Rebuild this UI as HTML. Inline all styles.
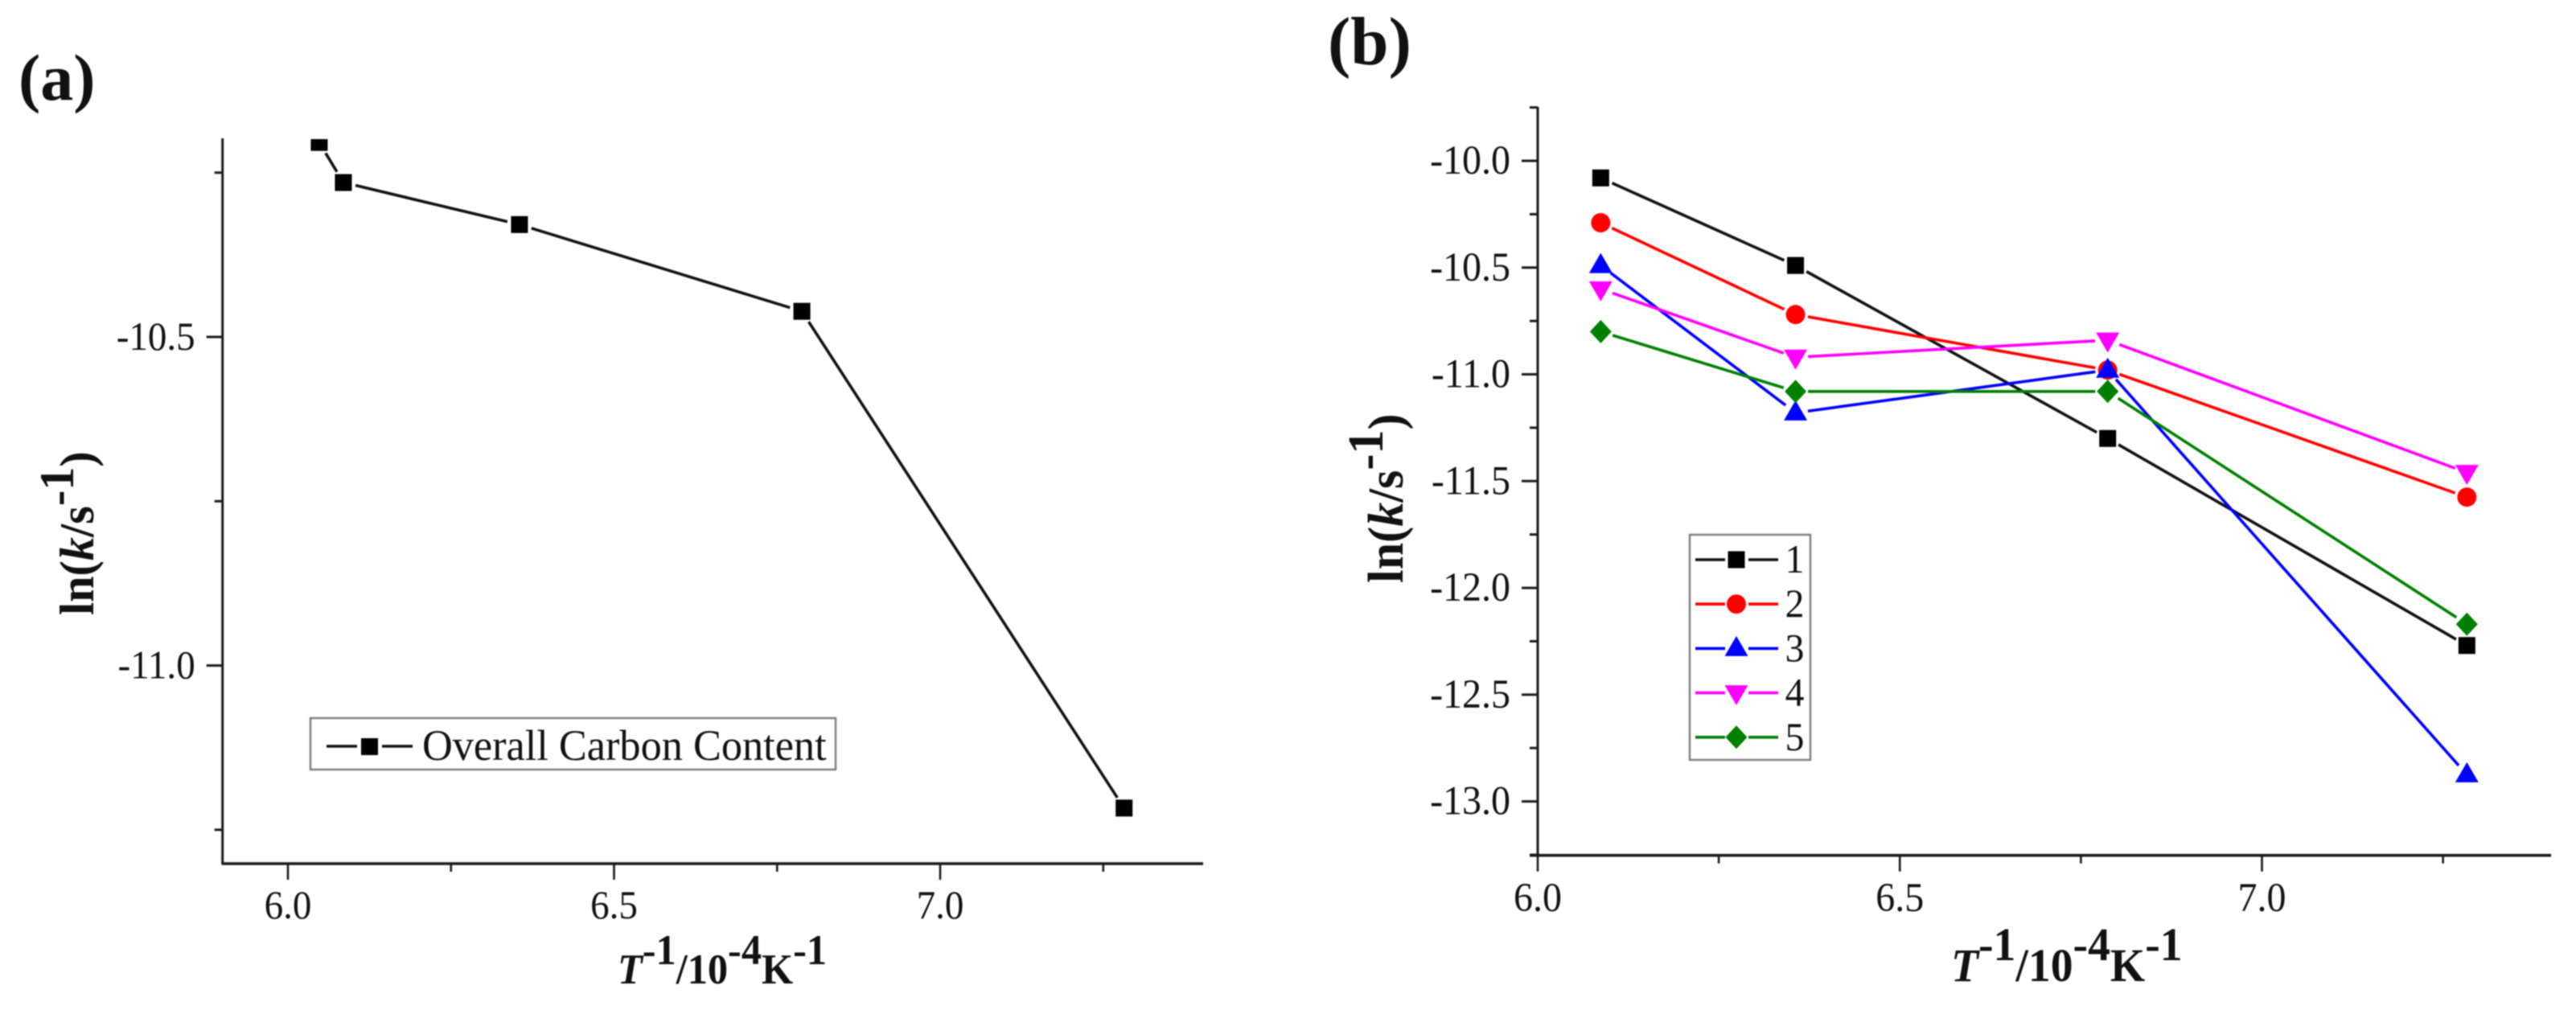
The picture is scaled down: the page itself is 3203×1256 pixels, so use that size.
<!DOCTYPE html>
<html lang="en">
<head>
<meta charset="utf-8">
<title>ln(k) versus inverse temperature</title>
<style>
  html, body { margin: 0; padding: 0; background: #fff; }
  #figure { display: block; width: 3203px; height: 1256px; filter: blur(0.7px); }
  text { font-family: "Liberation Serif", serif; fill: #111; }
</style>
</head>
<body>
<svg id="figure" xmlns="http://www.w3.org/2000/svg" width="3203" height="1256" viewBox="0 0 3203 1256">
  <defs>
    <clipPath id="clip-a"><rect x="277" y="173" width="1230" height="901"></rect></clipPath>
  </defs>
  <rect x="0" y="0" width="3203" height="1256" fill="#fff"></rect>

  <text x="23" y="124" font-size="82" font-weight="bold">(a)</text>
  <text x="1651" y="80" font-size="85" font-weight="bold">(b)</text>

  <g id="panel-a"></g>
  <g id="panel-b"></g>

  <text transform="translate(768 1223) scale(0.95 1)" font-size="53" font-weight="bold"><tspan font-style="italic">T</tspan><tspan dy="-24">-1</tspan><tspan dy="24">/10</tspan><tspan dy="-24">-4</tspan><tspan dy="24">K</tspan><tspan dy="-24">-1</tspan></text>
  <text transform="translate(2426 1220) scale(0.96 1)" font-size="58" font-weight="bold"><tspan font-style="italic">T</tspan><tspan dy="-26">-1</tspan><tspan dy="26">/10</tspan><tspan dy="-26">-4</tspan><tspan dy="26">K</tspan><tspan dy="-26">-1</tspan></text>

  <text transform="translate(116 765) rotate(-90) scale(0.97 1)" font-size="60" font-weight="bold">ln(<tspan font-style="italic">k</tspan>/s<tspan dy="-25">-1</tspan><tspan dy="25">)</tspan></text>
  <text transform="translate(1744 725) rotate(-90) scale(0.97 1)" font-size="62" font-weight="bold">ln(<tspan font-style="italic">k</tspan>/s<tspan dy="-25">-1</tspan><tspan dy="25">)</tspan></text>

  <g id="legend-a">
    <rect x="386" y="893" width="653" height="64" fill="#fff" stroke="#808080" stroke-width="2.5"></rect>
    <line x1="406" y1="928" x2="444" y2="928" stroke="#111" stroke-width="3.6"></line>
    <line x1="475" y1="928" x2="513" y2="928" stroke="#111" stroke-width="3.6"></line>
    <rect x="449" y="918" width="21" height="21" fill="#000"></rect>
    <text transform="translate(525 945) scale(0.96 1)" font-size="54.5">Overall Carbon Content</text>
  </g>
  <g id="legend-b">
    <rect x="2101" y="665" width="150" height="280" fill="#fff" stroke="#808080" stroke-width="2.5"></rect>
  </g>
</svg>

<script>
// ---- Panel (a) data ----
const panelAXValues = [6.048, 6.085, 6.355, 6.788, 7.282];
const panelAYValues = [-10.204, -10.265, -10.329, -10.461, -11.217];
const panelAXTicks = [6.0, 6.5, 7.0];
const panelAXMinorTicks = [6.25, 6.75, 7.25];
const panelAYTicks = [-10.5, -11.0];
const panelAYMinorTicks = [-10.25, -10.75, -11.25];

// ---- Panel (b) data ----
const panelBXValues = [6.087, 6.356, 6.787, 7.283];
const series1Values = [-10.08, -10.49, -11.30, -12.27];
const series2Values = [-10.29, -10.72, -10.98, -11.575];
const series3Values = [-10.49, -11.18, -10.98, -12.875];
const series4Values = [-10.60, -10.92, -10.84, -11.46];
const series5Values = [-10.80, -11.08, -11.08, -12.17];
const seriesLabels = ['1', '2', '3', '4', '5'];
const panelBXTicks = [6.0, 6.5, 7.0];
const panelBXMinorTicks = [6.25, 6.75, 7.25];
const panelBYTicks = [-10.0, -10.5, -11.0, -11.5, -12.0, -12.5, -13.0];
const panelBYMinorTicks = [-9.75, -10.25, -10.75, -11.25, -11.75, -12.25, -12.75, -13.25];

const NS = 'http://www.w3.org/2000/svg';
const AXIS_COLOR = '#1a1a1a';

function linearScale(d0, d1, r0, r1) {
  return function (v) { return r0 + (v - d0) * (r1 - r0) / (d1 - d0); };
}
function create(tag, parent) {
  const el = document.createElementNS(NS, tag);
  parent.appendChild(el);
  return el;
}
function setLine(el, x1, y1, x2, y2, color, width) {
  el.setAttribute('x1', x1);
  el.setAttribute('y1', y1);
  el.setAttribute('x2', x2);
  el.setAttribute('y2', y2);
  el.setAttribute('stroke', color);
  el.setAttribute('stroke-width', width);
}
function setMarker(el, shape, cx, cy, color) {
  let d;
  if (shape === 'square') {
    d = 'M' + (cx - 10.5) + ' ' + (cy - 10.5) + 'h21v21h-21z';
  } else if (shape === 'circle') {
    d = 'M' + (cx - 12) + ' ' + cy + 'a12 12 0 1 0 24 0a12 12 0 1 0 -24 0z';
  } else if (shape === 'up') {
    d = 'M' + cx + ' ' + (cy - 15.5) + 'L' + (cx + 14.5) + ' ' + (cy + 9.5) + 'L' + (cx - 14.5) + ' ' + (cy + 9.5) + 'z';
  } else if (shape === 'down') {
    d = 'M' + cx + ' ' + (cy + 15.5) + 'L' + (cx + 14.5) + ' ' + (cy - 9.5) + 'L' + (cx - 14.5) + ' ' + (cy - 9.5) + 'z';
  } else {
    d = 'M' + cx + ' ' + (cy - 14.5) + 'L' + (cx + 13.5) + ' ' + cy + 'L' + cx + ' ' + (cy + 14.5) + 'L' + (cx - 13.5) + ' ' + cy + 'z';
  }
  el.setAttribute('d', d);
  el.setAttribute('fill', color);
}

function drawAxes(parent, opt) {
  const xAxis = create('line', parent);
  
  
  setLine(xAxis, opt.xAxisStart, opt.axisY, opt.xAxisEnd, opt.axisY, AXIS_COLOR, 3.6);

  const yAxis = create('line', parent);
  
  
  setLine(yAxis, opt.axisX, opt.yAxisTop, opt.axisX, opt.axisY + 1, AXIS_COLOR, 3);

  opt.xTicks.forEach(function (v) {
    const t = create('line', parent);
    
    
    setLine(t, opt.x(v), opt.axisY, opt.x(v), opt.axisY + 20, AXIS_COLOR, 2.6);
    const label = create('text', parent);
    
    
    label.setAttribute('transform', 'translate(' + opt.x(v) + ' ' + opt.xLabelY + ') scale(0.95 1)');
    label.setAttribute('font-size', opt.tickFont);
    label.setAttribute('text-anchor', 'middle');
    label.textContent = v.toFixed(1);
  });
  opt.xMinor.forEach(function (v) {
    const t = create('line', parent);
    
    
    setLine(t, opt.x(v), opt.axisY, opt.x(v), opt.axisY + 10, AXIS_COLOR, 2.6);
  });
  opt.yTicks.forEach(function (v) {
    const t = create('line', parent);
    
    
    setLine(t, opt.axisX - 20, opt.y(v), opt.axisX, opt.y(v), AXIS_COLOR, 3);
    const label = create('text', parent);
    
    
    label.setAttribute('transform', 'translate(' + (opt.axisX - opt.yLabelGap) + ' ' + (opt.y(v) + 16) + ') scale(0.95 1)');
    label.setAttribute('font-size', opt.tickFont);
    label.setAttribute('text-anchor', 'end');
    label.textContent = v.toFixed(1);
  });
  opt.yMinor.forEach(function (v) {
    const t = create('line', parent);
    
    
    setLine(t, opt.axisX - 10, opt.y(v), opt.axisX, opt.y(v), AXIS_COLOR, 3);
  });
}

function drawSeries(parent, xs, ys, xScale, yScale, shape, color, gap, lineWidth, name) {
  const pts = xs.map(function (v, i) { return [xScale(v), yScale(ys[i])]; });
  for (let i = 0; i < pts.length - 1; i++) {
    const dx = pts[i + 1][0] - pts[i][0];
    const dy = pts[i + 1][1] - pts[i][1];
    const len = Math.sqrt(dx * dx + dy * dy);
    if (len <= gap * 2) { continue; }
    const ux = dx / len;
    const uy = dy / len;
    const seg = create('line', parent);
    
    
    setLine(seg, pts[i][0] + ux * gap, pts[i][1] + uy * gap, pts[i + 1][0] - ux * gap, pts[i + 1][1] - uy * gap, color, lineWidth);
  }
  pts.forEach(function (p) {
    const m = create('path', parent);
    
    
    setMarker(m, shape, p[0], p[1], color === '#111' ? '#000' : color);
  });
}

// Panel (a)
const aX = linearScale(6.0, 7.0, 358, 1169);
const aY = linearScale(-10.5, -11.0, 419, 827.6);
const panelA = document.getElementById('panel-a');
drawAxes(panelA, {
  x: aX, y: aY, axisX: 276.7, axisY: 1074, xAxisStart: 276, xAxisEnd: 1496, yAxisTop: 172,
  xTicks: panelAXTicks, xMinor: panelAXMinorTicks, yTicks: panelAYTicks, yMinor: panelAYMinorTicks,
  xLabelY: 1142, tickFont: 49.5, yLabelGap: 34
});
const panelAPlot = create('g', panelA);


panelAPlot.setAttribute('clip-path', 'url(#clip-a)');
drawSeries(panelAPlot, panelAXValues, panelAYValues, aX, aY, 'square', '#111', 15.5, 3.6, 'overall-carbon-series');

// Panel (b)
const bX = linearScale(6.0, 7.0, 1912, 2812.5);
const bY = linearScale(-10.0, -13.0, 200, 996.6);
const panelB = document.getElementById('panel-b');
drawAxes(panelB, {
  x: bX, y: bY, axisX: 1912, axisY: 1063.7, xAxisStart: 1902, xAxisEnd: 3172, yAxisTop: 133,
  xTicks: panelBXTicks, xMinor: panelBXMinorTicks, yTicks: panelBYTicks, yMinor: panelBYMinorTicks,
  xLabelY: 1133, tickFont: 50.5, yLabelGap: 34
});
const seriesSets = [series1Values, series2Values, series3Values, series4Values, series5Values];
const seriesShapes = ['square', 'circle', 'up', 'down', 'diamond'];
const seriesColors = ['#111', '#ff0000', '#0000ff', '#ff00ff', '#008000'];
seriesSets.forEach(function (vals, i) {
  const g = create('g', panelB);
  
  
  drawSeries(g, panelBXValues, vals, bX, bY, seriesShapes[i], seriesColors[i], 15.5, 3.6, 'series-' + seriesLabels[i]);
});

// Panel (b) legend
const legendB = document.getElementById('legend-b');
seriesLabels.forEach(function (lab, i) {
  const rowY = 696 + i * 55.2;
  const left = create('line', legendB);
  
  
  setLine(left, 2108, rowY, 2145, rowY, seriesColors[i], 3.6);
  const right = create('line', legendB);
  
  
  setLine(right, 2174, rowY, 2211, rowY, seriesColors[i], 3.6);
  const marker = create('path', legendB);
  
  
  setMarker(marker, seriesShapes[i], 2159, rowY, seriesColors[i] === '#111' ? '#000' : seriesColors[i]);
  const label = create('text', legendB);
  
  
  label.setAttribute('transform', 'translate(2231.5 ' + (rowY + 16) + ') scale(0.95 1)');
  label.setAttribute('font-size', 50);
  label.setAttribute('text-anchor', 'middle');
  label.textContent = lab;
});
</script>
</body>
</html>
